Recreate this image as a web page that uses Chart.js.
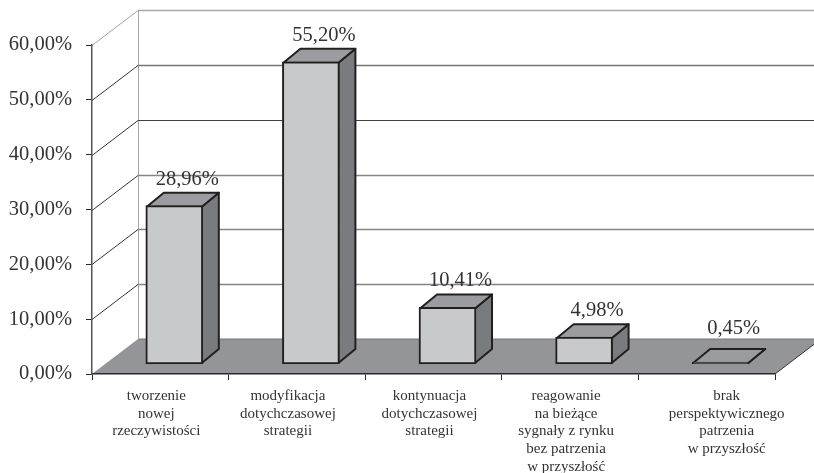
<!DOCTYPE html>
<html lang="pl">
<head>
<meta charset="utf-8">
<title>Wykres</title>
<script src="https://cdn.jsdelivr.net/npm/chart.js@4"></script>
<style>
    html, body { margin: 0; padding: 0; background: #fff; }
    canvas { display: block; }
</style>
</head>
<body>
<canvas id="barChart" width="814" height="473"></canvas>
<script>
const categories = [
    ['tworzenie', 'nowej', 'rzeczywistości'],
    ['modyfikacja', 'dotychczasowej', 'strategii'],
    ['kontynuacja', 'dotychczasowej', 'strategii'],
    ['reagowanie', 'na bieżące', 'sygnały z rynku', 'bez patrzenia', 'w przyszłość'],
    ['brak', 'perspektywicznego', 'patrzenia', 'w przyszłość']
];
const shares = [28.96, 55.20, 10.41, 4.98, 0.45];
const yTicks = [0, 10, 20, 30, 40, 50, 60];

const FONT = '"Liberation Serif", "Times New Roman", serif';
const TEXT = '#333333';

// Depth of the box: the wall sits one step back, bars part of the way in
const WALL = { dx: 46, dy: -35 };
const BAR_SHIFT = { dx: 14, dy: -9.5 };
const BAR_DEPTH = { dx: 17, dy: -14 };

// Wall line colours per tick value
const wallLine = { 10: '#858585', 20: '#858585', 30: '#858585', 40: '#404040', 50: '#767676', 60: '#a8a8a8' };
const sideLine = { 10: '#333', 20: '#333', 30: '#333', 40: '#333', 50: '#333', 60: '#a0a0a0' };

// The axis captions are not evenly centred under their ticks
const captionShift = [-4, -9, -4, -4, 20];

function percent(v) {
    return v.toFixed(2).replace('.', ',') + '%';
}

function face(ctx, points, fill) {
    ctx.beginPath();
    points.forEach((p, i) => i ? ctx.lineTo(p[0], p[1]) : ctx.moveTo(p[0], p[1]));
    ctx.closePath();
    ctx.fillStyle = fill;
    ctx.fill();
    ctx.stroke();
}

const box3d = {
    id: 'box3d',

    // Floor and back wall, behind the axes
    beforeDraw(chart) {
        const { ctx, scales: { x, y }, width } = chart;
        const left = x.left, right = x.right;
        const y0 = y.getPixelForValue(0);

        ctx.save();
        ctx.fillStyle = '#949598';
        ctx.beginPath();
        ctx.moveTo(left, y0);
        ctx.lineTo(left + WALL.dx, y0 + WALL.dy);
        ctx.lineTo(width, y0 + WALL.dy);
        ctx.lineTo(width, y0 - (width - right) * 35 / 46);
        ctx.lineTo(right, y0);
        ctx.closePath();
        ctx.fill();

        ctx.lineWidth = 1;
        ctx.strokeStyle = '#777';
        ctx.beginPath();
        ctx.moveTo(left + WALL.dx, y0 + WALL.dy);
        ctx.lineTo(width, y0 + WALL.dy);
        ctx.stroke();

        ctx.strokeStyle = '#333';
        ctx.beginPath();
        ctx.moveTo(right, y0);
        ctx.lineTo(width, y0 - (width - right) * 35 / 46);
        ctx.stroke();

        ctx.strokeStyle = '#a8a8a8';
        ctx.beginPath();
        ctx.moveTo(left + WALL.dx + 0.5, y.getPixelForValue(60) + WALL.dy);
        ctx.lineTo(left + WALL.dx + 0.5, y0 + WALL.dy);
        ctx.stroke();

        yTicks.slice(1).forEach(v => {
            const py = Math.round(y.getPixelForValue(v));
            ctx.lineWidth = v === 40 ? 1 : 1.4;
            ctx.strokeStyle = wallLine[v];
            ctx.beginPath();
            ctx.moveTo(left + WALL.dx, py + WALL.dy + 0.5);
            ctx.lineTo(width, py + WALL.dy + 0.5);
            ctx.stroke();

            ctx.lineWidth = 1;
            ctx.strokeStyle = sideLine[v];
            ctx.beginPath();
            ctx.moveTo(left, py + 0.5);
            ctx.lineTo(left + WALL.dx, py + WALL.dy + 0.5);
            ctx.stroke();
        });
        ctx.restore();
    },

    // Top and side of each bar, the front comes from the bar element
    beforeDatasetDraw(chart, args) {
        const ctx = chart.ctx;
        ctx.save();
        ctx.translate(BAR_SHIFT.dx, BAR_SHIFT.dy);
        ctx.lineWidth = 2;
        ctx.lineJoin = 'round';
        ctx.strokeStyle = '#231f20';
        args.meta.data.forEach(bar => {
            const l = bar.x - bar.width / 2 + 1;
            const r = bar.x + bar.width / 2 - 1;
            const t = bar.y + 1;
            const b = bar.base - 1;
            const dx = BAR_DEPTH.dx, dy = BAR_DEPTH.dy;
            face(ctx, [[r, t], [r + dx, t + dy], [r + dx, b + dy], [r, b]], '#7a7b7e');
            face(ctx, [[l, t], [l + dx, t + dy], [r + dx, t + dy], [r, t]], '#9b9c9f');
        });
    },

    afterDatasetDraw(chart, args) {
        const ctx = chart.ctx;
        ctx.restore();

        ctx.save();
        ctx.font = '20.5px ' + FONT;
        ctx.fillStyle = TEXT;
        ctx.textAlign = 'center';
        ctx.textBaseline = 'alphabetic';
        args.meta.data.forEach((bar, i) => {
            // the thinnest bar has its label lifted a little more
            const lift = i === shares.length - 1 ? 28 : 21;
            ctx.fillText(percent(shares[i]), bar.x + BAR_SHIFT.dx + 13, bar.y + BAR_SHIFT.dy - lift);
        });
        ctx.restore();
    },

    // Multi-line captions below the category axis
    afterDraw(chart) {
        const { ctx, scales: { x } } = chart;
        ctx.save();
        ctx.font = '15px ' + FONT;
        ctx.fillStyle = TEXT;
        ctx.textAlign = 'center';
        ctx.textBaseline = 'middle';
        categories.forEach((lines, i) => {
            lines.forEach((line, n) => {
                ctx.fillText(line, x.getPixelForTick(i) + captionShift[i], 396 + n * 17.7);
            });
        });
        ctx.restore();
    }
};

new Chart(document.getElementById('barChart'), {
    type: 'bar',
    data: {
        labels: categories,
        datasets: [{
            data: shares,
            barThickness: 57,
            backgroundColor: '#c8c9cb',
            borderColor: '#231f20',
            borderWidth: 2,
            borderSkipped: false
        }]
    },
    options: {
        responsive: false,
        animation: false,
        layout: { padding: { top: 45, right: 39, left: 0, bottom: 0 } },
        plugins: {
            legend: { display: false },
            title: { display: false },
            tooltip: { enabled: false }
        },
        scales: {
            x: {
                afterFit(scale) { scale.height = 99; },
                border: { color: '#2a2a2a', width: 1.5 },
                grid: { drawOnChartArea: false, tickLength: 6, color: '#2a2a2a', tickWidth: 1 },
                ticks: { display: false }
            },
            y: {
                min: 0,
                max: 60,
                afterFit(scale) { scale.width = 92; },
                border: { color: '#555', width: 1.5 },
                grid: { drawOnChartArea: false, tickLength: 6, color: '#2a2a2a', tickWidth: 1 },
                ticks: {
                    stepSize: 10,
                    padding: 14,
                    color: TEXT,
                    font: { family: FONT, size: 20.5 },
                    callback: value => percent(value)
                }
            }
        }
    },
    plugins: [box3d]
});
</script>
</body>
</html>
